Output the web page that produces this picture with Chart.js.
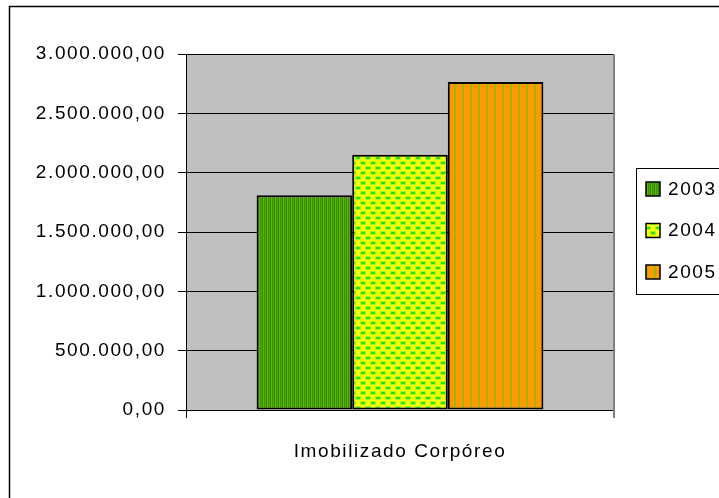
<!DOCTYPE html>
<html>
<head>
<meta charset="utf-8">
<script src="https://cdn.jsdelivr.net/npm/chart.js@4.4.1/dist/chart.umd.min.js"></script>
<style>
  html, body { margin: 0; padding: 0; background: #ffffff; }
  #c { display: block; }
</style>
</head>
<body>
<canvas id="c" width="719" height="498"></canvas>
<script>
// Fixed assets (Imobilizado Corpóreo) by year
const categories = ['Imobilizado Corpóreo'];
const years = ['2003', '2004', '2005'];
const values2003 = [1810000];
const values2004 = [2150000];
const values2005 = [2765000];
const yTicks = [0, 500000, 1000000, 1500000, 2000000, 2500000, 3000000];

const FONT = '"Liberation Sans", Arial, sans-serif';
const SPACING = '1.6px';

// Fill patterns for the bars
function makePattern(w, h, paint) {
  const c = document.createElement('canvas');
  c.width = w; c.height = h;
  const g = c.getContext('2d');
  paint(g);
  return document.getElementById('c').getContext('2d').createPattern(c, 'repeat');
}
const greenStripes = makePattern(4, 1, g => {
  const cols = ['#339900', '#55a600', '#2e8c00', '#66b000'];
  cols.forEach((col, i) => { g.fillStyle = col; g.fillRect(i, 0, 1, 1); });
});
const yellowDots = makePattern(10, 10, g => {
  g.fillStyle = '#ffff00'; g.fillRect(0, 0, 10, 10);
  const dot = (x, y) => {
    g.fillStyle = '#99ff22'; g.fillRect(x - 1, y - 1, 6, 4);
    g.fillStyle = '#33dd00'; g.fillRect(x, y, 4, 2);
  };
  dot(1, 2); dot(6, 7); dot(-4, 7);
});
const orangeStripes = makePattern(8, 1, g => {
  g.fillStyle = '#ff9900'; g.fillRect(0, 0, 8, 1);
  g.fillStyle = '#a3b500'; g.fillRect(6, 0, 2, 1);
});

function fmtNumber(v) {
  const s = Math.round(v).toString().replace(/\B(?=(\d{3})+(?!\d))/g, '.');
  return s + ',00';
}

function applySpacing(chart) { chart.ctx.letterSpacing = SPACING; }

const frame = {
  id: 'frame',
  beforeUpdate: applySpacing,
  beforeLayout: applySpacing,
  beforeDraw(chart) {
    applySpacing(chart);
    const { ctx, chartArea: a } = chart;
    ctx.save();
    ctx.fillStyle = '#c0c0c0';
    ctx.fillRect(a.left, a.top, a.right - a.left, a.bottom - a.top);
    // outer chart border
    ctx.strokeStyle = '#000';
    ctx.lineWidth = 1.5;
    ctx.strokeRect(9.5, 6.5, 800, 600);
    ctx.restore();
  },
  afterDatasetsDraw(chart) {
    const { ctx, chartArea: a } = chart;
    ctx.save();
    ctx.strokeStyle = '#808080';
    ctx.lineWidth = 2;
    ctx.beginPath();
    ctx.moveTo(a.right, a.top);
    ctx.lineTo(a.right, a.bottom + 8);
    ctx.stroke();
    ctx.restore();
  },
  afterDraw(chart) {
    const ctx = chart.ctx;
    ctx.save();
    ctx.letterSpacing = SPACING;
    ctx.strokeStyle = '#000';
    ctx.lineWidth = 1;
    ctx.strokeRect(636.5, 168.5, 200, 126);
    ctx.font = '19px ' + FONT;
    ctx.textBaseline = 'middle';
    ctx.textAlign = 'left';
    chart.data.datasets.forEach((ds, i) => {
      const y = 182 + i * 41.5;
      ctx.fillStyle = ds.backgroundColor;
      ctx.fillRect(646, y, 14, 14);
      ctx.lineWidth = 1.5;
      ctx.strokeStyle = '#000';
      ctx.strokeRect(646, y, 14, 14);
      ctx.fillStyle = '#000';
      ctx.fillText(ds.label, 668, y + 7.5);
    });
    ctx.restore();
  }
};

new Chart(document.getElementById('c'), {
  type: 'bar',
  data: {
    labels: categories,
    datasets: [
      { label: years[0], data: values2003, backgroundColor: greenStripes },
      { label: years[1], data: values2004, backgroundColor: yellowDots },
      { label: years[2], data: values2005, backgroundColor: orangeStripes }
    ].map(d => Object.assign(d, {
      borderColor: '#000', borderWidth: 2, borderSkipped: false,
      barPercentage: 1, categoryPercentage: 0.67
    }))
  },
  options: {
    responsive: false,
    animation: false,
    devicePixelRatio: 1,
    layout: { padding: { left: 0, top: 54, right: 105, bottom: 0 } },
    plugins: { legend: { display: false }, tooltip: { enabled: false } },
    scales: {
      x: {
        offset: true,
        afterFit(s) { s.height = 88; },
        border: { color: '#000', width: 1 },
        grid: {
          offset: true, drawOnChartArea: false, drawTicks: true, tickLength: 8,
          color: c => (c.index === 0 ? '#000' : '#808080'), lineWidth: 1
        },
        ticks: { color: '#000', padding: 22, font: { family: FONT, size: 19 } }
      },
      y: {
        min: 0, max: 3000000,
        afterFit(s) { s.width = 186; },
        afterBuildTicks(s) { s.ticks = yTicks.map(v => ({ value: v })); },
        border: { color: '#000', width: 1 },
        grid: { color: '#000', lineWidth: 1, tickLength: 8, drawTicks: true },
        ticks: {
          color: '#000', padding: 12, font: { family: FONT, size: 19 },
          callback: v => fmtNumber(v)
        }
      }
    }
  },
  plugins: [frame]
});
</script>
</body>
</html>
